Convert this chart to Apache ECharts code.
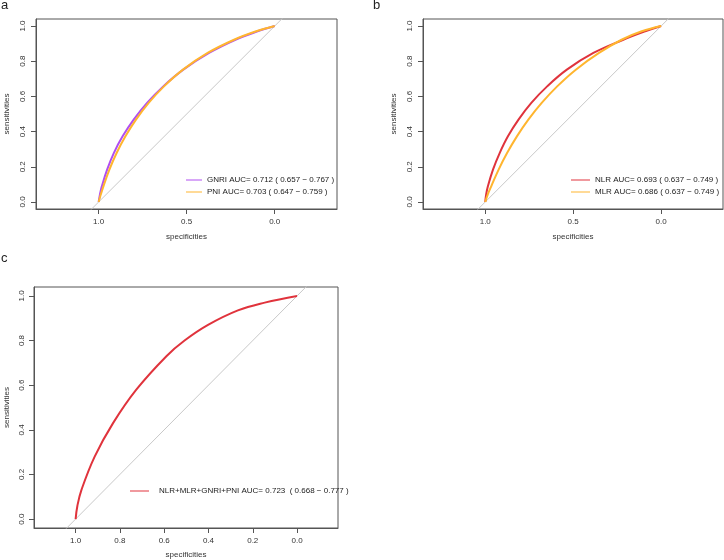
<!DOCTYPE html>
<html>
<head>
<meta charset="utf-8">
<script src="https://cdn.jsdelivr.net/npm/echarts@6/dist/echarts.min.js"></script>
<style>
html, body { margin: 0; padding: 0; background: #fff; }
#main { width: 724px; height: 560px; }
</style>
</head>
<body>
<div id="main"></div>
<script>
// ROC curves (specificity, sensitivity)
const sensAB = [0, 0.042, 0.089, 0.184, 0.278, 0.373, 0.468, 0.563, 0.657, 0.752, 0.847, 0.922, 0.970, 1];
const gnriSpec = [1, 0.993, 0.982, 0.952, 0.914, 0.864, 0.801, 0.725, 0.633, 0.519, 0.373, 0.223, 0.097, 0];
const pniSpec = [1, 0.988, 0.973, 0.939, 0.898, 0.848, 0.788, 0.716, 0.629, 0.521, 0.381, 0.231, 0.105, 0];
const nlrSpec = [1, 0.995, 0.985, 0.956, 0.918, 0.871, 0.811, 0.738, 0.648, 0.536, 0.385, 0.215, 0.090, 0];
const mlrSpec = [1, 0.986, 0.966, 0.924, 0.876, 0.820, 0.755, 0.679, 0.591, 0.485, 0.353, 0.225, 0.110, 0];

const comboSens = [0, 0.06, 0.13, 0.28, 0.43, 0.58, 0.73, 0.80, 0.87, 0.935, 0.97, 1];
const comboSpec = [1, 0.992, 0.974, 0.914, 0.831, 0.726, 0.590, 0.508, 0.402, 0.267, 0.146, 0];

const chanceLine = [[1.3, -0.3], [-0.3, 1.3]];

const legendA = ['GNRI AUC= 0.712 ( 0.657 \u2212 0.767 )', 'PNI AUC= 0.703 ( 0.647 \u2212 0.759 )'];
const legendB = ['NLR AUC= 0.693 ( 0.637 \u2212 0.749 )', 'MLR AUC= 0.686 ( 0.637 \u2212 0.749 )'];
const legendC = ['NLR+MLR+GNRI+PNI AUC= 0.723  ( 0.668 \u2212 0.777 )'];

const yTicks = [0, 0.2, 0.4, 0.6, 0.8, 1.0];
const xTicksAB = [0, 0.5, 1.0];
const xTicksC = [0, 0.2, 0.4, 0.6, 0.8, 1.0];

const FONT = 'Liberation Sans, Arial, sans-serif';
const BOX = '#555';
const pairs = (xs, ys) => xs.map((x, i) => [x, ys[i]]);

const xAxisOf = (grid, min, max, ticks, nameGap) => ({
  type: 'value', gridIndex: grid, inverse: true, min, max, position: 'bottom',
  name: 'specificities', nameLocation: 'middle', nameGap,
  nameTextStyle: { fontSize: 8, color: '#333', fontFamily: FONT },
  axisLine: { show: true, onZero: false, lineStyle: { color: BOX, width: 1 } },
  splitLine: { show: false },
  axisTick: { show: true, inside: false, length: 5, customValues: ticks, lineStyle: { color: BOX, width: 1 } },
  axisLabel: { customValues: ticks, fontSize: 8, color: '#333', fontFamily: FONT, margin: 9,
    formatter: v => v.toFixed(1) }
});

const yAxisOf = (grid, nameGap, margin) => ({
  type: 'value', gridIndex: grid, min: -0.04, max: 1.04, position: 'left',
  name: 'sensitivities', nameLocation: 'middle', nameRotate: 90, nameGap,
  nameTextStyle: { fontSize: 8, color: '#333', fontFamily: FONT },
  axisLine: { show: true, onZero: false, lineStyle: { color: BOX, width: 1 } },
  splitLine: { show: false },
  axisTick: { show: true, inside: false, length: 5, customValues: yTicks, lineStyle: { color: BOX, width: 1 } },
  axisLabel: { customValues: yTicks, fontSize: 8, color: '#333', fontFamily: FONT, margin,
    rotate: 90, formatter: v => v.toFixed(1) }
});

const chance = (i) => ({
  type: 'line', xAxisIndex: i, yAxisIndex: i, data: chanceLine, symbol: 'none',
  clip: true, silent: true, z: 1, lineStyle: { color: '#c8c8c8', width: 1 }
});

const curve = (i, name, data, color) => ({
  type: 'line', name, xAxisIndex: i, yAxisIndex: i, data, symbol: 'none',
  smooth: 0.4, clip: true, z: 3, color, lineStyle: { color, width: 2 }
});

const legendOf = (data, left, top, itemWidth, pad) => ({
  data, left, top, orient: 'vertical', padding: 0, itemGap: 0,
  icon: 'rect', itemWidth, itemHeight: 1,
  textStyle: { fontSize: 8, color: '#222', fontFamily: FONT, lineHeight: 12, padding: [0, 0, 0, pad] },
  selectedMode: false
});

const titleOf = (text, left, top) => ({
  text, left, top, padding: 0,
  textStyle: { fontSize: 13, fontWeight: 'normal', color: '#222', fontFamily: FONT }
});

const myChart = echarts.init(document.getElementById('main'));
const option = {
  backgroundColor: '#fff',
  animation: false,
  title: [titleOf('a', 1, -1), titleOf('b', 373, -1), titleOf('c', 1, 252)],
  grid: [
    { left: 36, top: 19, width: 301, height: 190, show: true, borderColor: BOX, borderWidth: 1, backgroundColor: 'transparent' },
    { left: 423, top: 19, width: 300, height: 190, show: true, borderColor: BOX, borderWidth: 1, backgroundColor: 'transparent' },
    { left: 34, top: 287, width: 304, height: 241, show: true, borderColor: BOX, borderWidth: 1, backgroundColor: 'transparent' }
  ],
  xAxis: [
    xAxisOf(0, -0.354, 1.356, xTicksAB, 24),
    xAxisOf(1, -0.352, 1.354, xTicksAB, 24),
    xAxisOf(2, -0.185, 1.188, xTicksC, 23)
  ],
  yAxis: [yAxisOf(0, 25, 9), yAxisOf(1, 25, 9), yAxisOf(2, 23, 8)],
  legend: [
    legendOf(legendA, 186, 174, 16, 0),
    legendOf(legendB, 571, 174, 19, 0),
    legendOf(legendC, 130, 485, 19, 5)
  ],
  series: [
    chance(0), chance(1), chance(2),
    curve(0, legendA[0], pairs(gnriSpec, sensAB), '#b04ef0'),
    curve(0, legendA[1], pairs(pniSpec, sensAB), '#ffb52e'),
    curve(1, legendB[0], pairs(nlrSpec, sensAB), '#e0333c'),
    curve(1, legendB[1], pairs(mlrSpec, sensAB), '#ffb52e'),
    curve(2, legendC[0], pairs(comboSpec, comboSens), '#e0333c')
  ]
};
myChart.setOption(option);
</script>
</body>
</html>
